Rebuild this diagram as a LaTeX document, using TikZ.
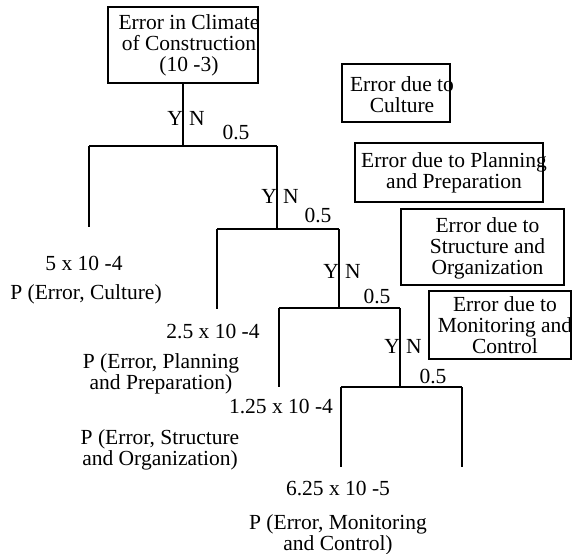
\documentclass[tikz,border=0pt]{standalone}
\usepackage{fontspec}
\setmainfont{Liberation Serif}
\begin{document}
\begin{tikzpicture}[x=1pt,y=-1pt,
  every node/.style={font=\fontsize{21.5}{21}\selectfont, inner sep=0pt, align=center},
  frame/.style={draw, line width=1.6pt},
  branch/.style={line width=1.8pt},
  yes/.style={anchor=east},
  no/.style={anchor=west}]
\useasboundingbox (0,0) rectangle (573,554);

% root event
\node[frame, minimum width=150, minimum height=76] (root) at (183,45) {};
\node (rootText) at (189,45) {Error in Climate\\of Construction\\(10 -3)};

% causes
\node[frame, minimum width=108, minimum height=58] (cult) at (396,93) {};
\node (cultText) at (402,95) {Error due to\\Culture};
\node[frame, minimum width=188, minimum height=59] (plan) at (449,172.5) {};
\node (planText) at (454,172.5) {Error due to Planning\\and Preparation};
\node[frame, minimum width=163, minimum height=76] (struc) at (482.5,247) {};
\node (strucText) at (487.5,248) {Error due to\\Structure and\\Organization};
\node[frame, minimum width=142, minimum height=68] (moni) at (500,325) {};
\node (moniText) at (505,325) {Error due to\\Monitoring and\\Control};

% junctions and leg ends
\coordinate (j1) at (183,146);
\coordinate (l1a) at (89,146);  \coordinate (l1b) at (89,227);
\coordinate (r1a) at (277,146); \coordinate (r1b) at (277,229);
\coordinate (l2a) at (217,229); \coordinate (l2b) at (217,309);
\coordinate (r2a) at (339,229); \coordinate (r2b) at (339,308);
\coordinate (l3a) at (279,308); \coordinate (l3b) at (279,387);
\coordinate (r3a) at (400,308); \coordinate (r3b) at (400,387);
\coordinate (l4a) at (341,387); \coordinate (l4b) at (341,467);
\coordinate (r4a) at (462,387); \coordinate (r4b) at (462,467);

\draw[branch] (root.south) -- (j1);
\draw[branch] (l1a) -- (r1a);
\draw[branch] (l1a) -- (l1b);
\draw[branch] (r1a) -- (r1b);
\draw[branch] (l2a) -- (r2a);
\draw[branch] (l2a) -- (l2b);
\draw[branch] (r2a) -- (r2b);
\draw[branch] (l3a) -- (r3a);
\draw[branch] (l3a) -- (l3b);
\draw[branch] (r3a) -- (r3b);
\draw[branch] (l4a) -- (r4a);
\draw[branch] (l4a) -- (l4b);
\draw[branch] (r4a) -- (r4b);

% Y / N labels and branch probabilities
\node[yes] (y1) at (183,118) {Y}; \node[no] (n1) at (189,118) {N};
\node (p1) at (236,133) {0.5};
\node[yes] (y2) at (277,196) {Y}; \node[no] (n2) at (283,196) {N};
\node (p2) at (318,216) {0.5};
\node[yes] (y3) at (339,271) {Y}; \node[no] (n3) at (345,271) {N};
\node (p3) at (377,296) {0.5};
\node[yes] (y4) at (400,346) {Y}; \node[no] (n4) at (406,346) {N};
\node (p4) at (433,376) {0.5};

% outcome values
\node (v1) at (84,263) {5 x 10 -4};
\node (o1) at (86,294) {P (Error, Culture)};
\node (v2) at (213,331) {2.5 x 10 -4};
\node (o2) at (161,374) {P (Error, Planning\\and Preparation)};
\node (v3) at (281,406) {1.25 x 10 -4};
\node (o3) at (160,450) {P (Error, Structure\\and Organization)};
\node (v4) at (338,488) {6.25 x 10 -5};
\node (o4) at (338,535) {P (Error, Monitoring\\and Control)};
\end{tikzpicture}
\end{document}
